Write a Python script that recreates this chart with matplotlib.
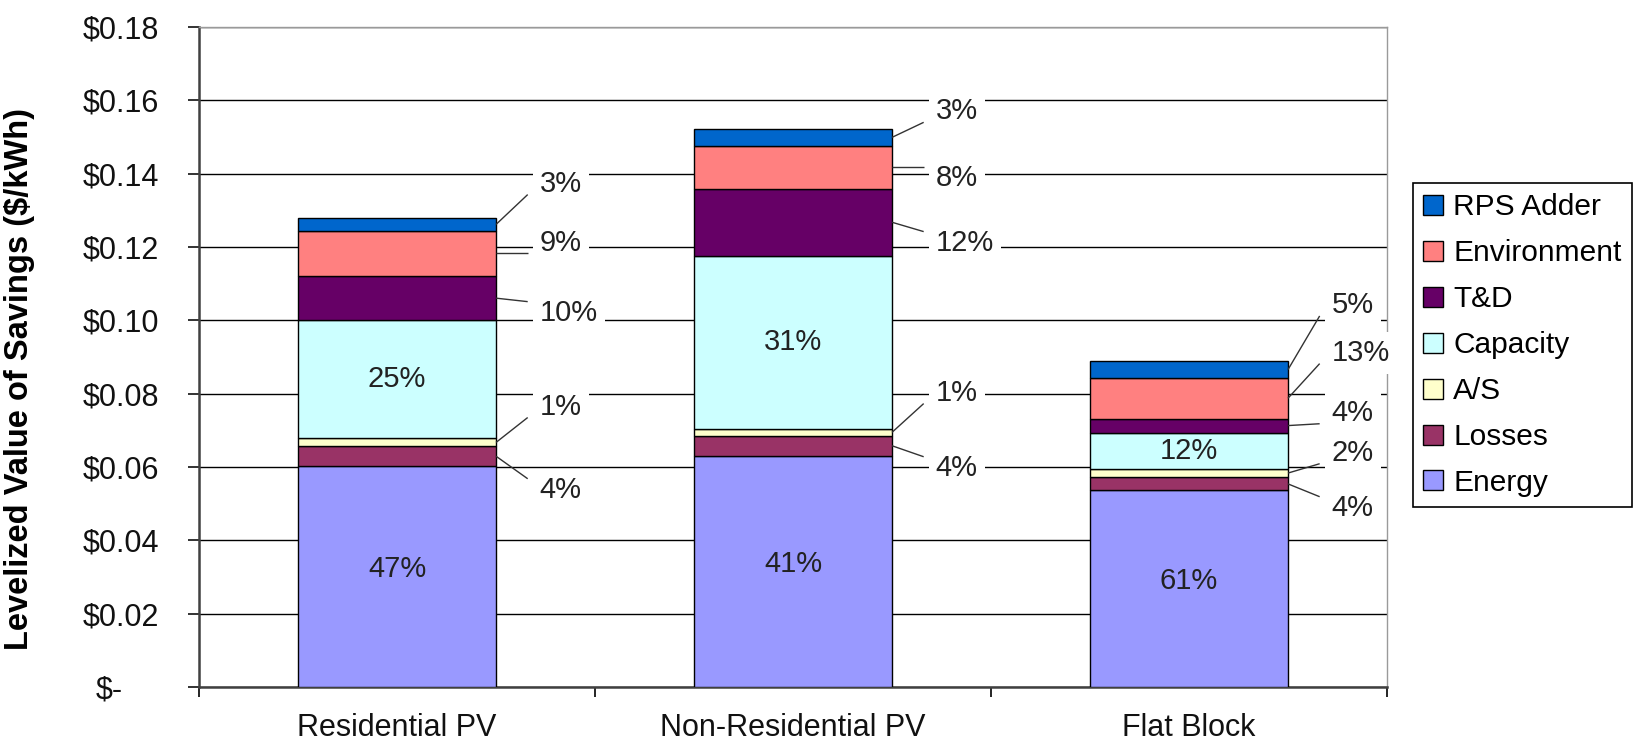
import matplotlib.pyplot as plt
import numpy as np
from matplotlib.patches import Patch
from matplotlib.transforms import ScaledTranslation

plt.rcParams['font.family'] = ['Liberation Sans', 'DejaVu Sans']

# data ($/kWh), stacked bottom to top
categories = ["Residential PV", "Non-Residential PV", "Flat Block"]
energy = [0.0603, 0.0631, 0.0536]
losses = [0.0053, 0.0054, 0.0036]
ancillary = [0.0022, 0.0019, 0.0023]
capacity = [0.0322, 0.0472, 0.0099]
tnd = [0.0121, 0.0183, 0.0038]
environment = [0.0124, 0.0117, 0.0111]
rps = [0.0033, 0.0046, 0.0045]

series_names = ["Energy", "Losses", "A/S", "Capacity", "T&D", "Environment", "RPS Adder"]
series_vals = [energy, losses, ancillary, capacity, tnd, environment, rps]
colors = ["#9999FF", "#993366", "#FFFFCC", "#CCFFFF", "#660066", "#FF8080", "#0066CC"]

# percentage labels
energy_pct = ["47%", "41%", "61%"]
losses_pct = ["4%", "4%", "4%"]
as_pct = ["1%", "1%", "2%"]
capacity_pct = ["25%", "31%", "12%"]
tnd_pct = ["10%", "12%", "4%"]
env_pct = ["9%", "8%", "13%"]
rps_pct = ["3%", "3%", "5%"]

# where the outside labels sit (y, $/kWh)
losses_lab_y = [0.0538, 0.0598, 0.0489]
as_lab_y = [0.0765, 0.0803, 0.0639]
tnd_lab_y = [0.1021, 0.1212, 0.0748]
env_lab_y = [0.1212, 0.1389, 0.0912]
rps_lab_y = [0.1373, 0.1570, 0.1042]

fig = plt.figure(figsize=(16.49, 7.52), dpi=100)
ax = fig.add_axes([0.1207, 0.0864, 0.7204, 0.8777])

x = np.arange(len(categories))
width = 0.5
bottom = np.zeros(len(categories))
mids = []
for name, vals, c in zip(series_names, series_vals, colors):
    vals = np.array(vals)
    ax.bar(x, vals, width, bottom=bottom, color=c, edgecolor="black",
           linewidth=1.0, label=name, zorder=3)
    mids.append(bottom + vals / 2)
    bottom = bottom + vals

# inside labels
for i in range(len(categories)):
    ax.text(x[i], mids[0][i] + 0.002, energy_pct[i], ha="center", va="center",
            fontsize=21, color="#222222", zorder=5)
    ax.text(x[i], mids[3][i], capacity_pct[i], ha="center", va="center",
            fontsize=21, color="#222222", zorder=5)

# outside labels with leader lines
outside = [(1, losses_pct, losses_lab_y), (2, as_pct, as_lab_y),
           (4, tnd_pct, tnd_lab_y), (5, env_pct, env_lab_y),
           (6, rps_pct, rps_lab_y)]
for k, labels, ys in outside:
    for i in range(len(categories)):
        y0 = mids[k][i]
        yl = ys[i]
        y1 = yl + np.clip(y0 - yl, -0.003, 0.003)
        ax.plot([x[i] + width / 2, x[i] + 0.33], [y0, y1], color="#333333",
                linewidth=1.0, zorder=6, solid_capstyle="butt")
        ax.text(x[i] + 0.36, yl, labels[i], ha="left", va="center",
                fontsize=21, color="#222222", zorder=5,
                bbox=dict(facecolor="white", edgecolor="none", pad=5))

# axes styling
ax.set_xlim(-0.5, 2.5)
ax.set_ylim(0, 0.18)
yt = np.arange(0, 0.181, 0.02)
ax.set_yticks(yt)
ax.set_yticklabels(["$-"] + ["${:.2f}".format(v) for v in yt[1:]])
ax.yaxis.grid(True, color="black", linewidth=1.0)
ax.set_axisbelow(True)
ax.tick_params(axis="y", direction="out", length=8, width=1.2, pad=21,
               labelsize=22, colors="#111111")

ax.set_xticks(x)
ax.set_xticklabels(categories)
ax.set_xticks([-0.5, 0.5, 1.5, 2.5], minor=True)
ax.tick_params(axis="x", which="major", length=0, pad=19, labelsize=22,
               colors="#111111")
ax.tick_params(axis="x", which="minor", direction="out", length=7, width=1.2)

# "$-" sits further left, accounting style
zero_lab = ax.get_yticklabels()[0]
zero_lab.set_transform(zero_lab.get_transform() +
                       ScaledTranslation(-36 / 100, 0, fig.dpi_scale_trans))

for s in ["left", "bottom"]:
    ax.spines[s].set_color("#404040")
    ax.spines[s].set_linewidth(1.8)
for s in ["top", "right"]:
    ax.spines[s].set_color("#9a9a9a")
    ax.spines[s].set_linewidth(1.0)

ax.set_ylabel("Levelized Value of Savings ($/kWh)", fontsize=23.5,
              fontweight="bold")
ax.yaxis.set_label_coords(-0.138, 0.467)

handles = [Patch(facecolor=c, edgecolor="black", linewidth=1.0)
           for c in colors][::-1]
leg = fig.legend(handles, series_names[::-1], loc="upper left",
                 bbox_to_anchor=(1413 / 1649, (752 - 183) / 752),
                 fontsize=21.5, frameon=True, fancybox=False, edgecolor="black",
                 framealpha=1, borderpad=0.35, handlelength=0.65,
                 handleheight=0.65, handletextpad=0.35, labelspacing=0.6,
                 borderaxespad=0)
leg.get_frame().set_linewidth(1.2)

fig.savefig("out.png", dpi=100, facecolor="white")
